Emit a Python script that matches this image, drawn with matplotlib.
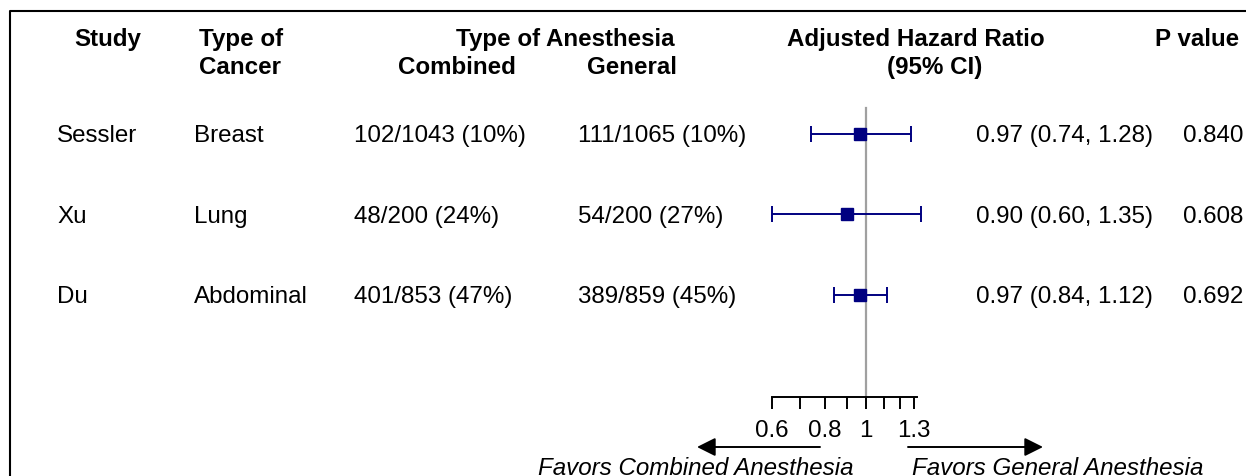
import matplotlib.pyplot as plt
import numpy as np
from matplotlib.lines import Line2D
from matplotlib.patches import FancyArrowPatch
from matplotlib.transforms import blended_transform_factory

# data
studies = ['Sessler', 'Xu', 'Du']
cancers = ['Breast', 'Lung', 'Abdominal']
combined = ['102/1043 (10%)', '48/200 (24%)', '401/853 (47%)']
general = ['111/1065 (10%)', '54/200 (27%)', '389/859 (45%)']
hr = [0.97, 0.90, 0.97]
lo = [0.74, 0.60, 0.84]
hi = [1.28, 1.35, 1.12]
pvals = ['0.840', '0.608', '0.692']
tick_vals = [0.6, 0.7, 0.8, 0.9, 1.0, 1.1, 1.2, 1.3]
tick_labels = ['0.6', '', '0.8', '', '1', '', '', '1.3']

W, H = 1246, 476
plt.rcParams['font.family'] = ['Liberation Sans', 'DejaVu Sans']
FS = 17.4

def fx(px):
    return px / W

def fy(py):
    return 1 - py / H

fig = plt.figure(figsize=(W / 100, H / 100), dpi=100)

# forest panel, log scale
ax = fig.add_axes([fx(760), fy(397), fx(930) - fx(760), fy(86) - fy(397)])
ax.set_xscale('log')
ax.set_xlim(0.5622, 1.4159)
ax.set_ylim(3.267, -0.596)
rows = np.arange(len(studies))

ax.axvline(1.0, ymin=0, ymax=(3.267 + 0.323) / (3.267 + 0.596), color='#a0a0a0', lw=1.6, zorder=1)
hr_a = np.array(hr)
ax.errorbar(hr_a, rows, xerr=[hr_a - np.array(lo), np.array(hi) - hr_a], fmt='s',
            color='#000080', ms=8.5, lw=1.4, capsize=6, capthick=1.4, zorder=3)

for s in ['top', 'right', 'left']:
    ax.spines[s].set_visible(False)
ax.spines['bottom'].set_bounds(0.6, 1.32)
ax.spines['bottom'].set_linewidth(1.4)
ax.set_yticks([])
ax.xaxis.set_major_locator(plt.FixedLocator(tick_vals))
ax.xaxis.set_major_formatter(plt.FixedFormatter(tick_labels))
ax.xaxis.set_minor_locator(plt.NullLocator())
ax.tick_params(axis='x', direction='out', length=8.6, width=1.4, pad=8, labelsize=FS)
ax.patch.set_visible(False)

# table columns, rows follow the axes' y scale
tr = blended_transform_factory(fig.transFigure, ax.transData)
cell = dict(transform=tr, fontsize=FS, va='center_baseline', ha='left')
for i in rows:
    ax.text(fx(57), i, studies[i], **cell)
    ax.text(fx(194), i, cancers[i], **cell)
    ax.text(fx(354), i, combined[i], **cell)
    ax.text(fx(578), i, general[i], **cell)
    ax.text(fx(976), i, f'{hr[i]:.2f} ({lo[i]:.2f}, {hi[i]:.2f})', **cell)
    ax.text(fx(1183), i, pvals[i], **cell)

# headers
hd = dict(fontsize=FS, fontweight='bold', va='center_baseline')
fig.text(fx(108), fy(37), 'Study', ha='center', **hd)
fig.text(fx(199), fy(37), 'Type of', ha='left', **hd)
fig.text(fx(199), fy(65), 'Cancer', ha='left', **hd)
fig.text(fx(565), fy(37), 'Type of Anesthesia', ha='center', **hd)
fig.text(fx(457), fy(65), 'Combined', ha='center', **hd)
fig.text(fx(632), fy(65), 'General', ha='center', **hd)
fig.text(fx(916), fy(37), 'Adjusted Hazard Ratio', ha='center', **hd)
fig.text(fx(935), fy(65), '(95% CI)', ha='center', **hd)
fig.text(fx(1239), fy(37), 'P value', ha='right', **hd)

# favors arrows
ap = dict(arrowstyle='-|>', color='black', lw=1.4, mutation_scale=28,
          transform=fig.transFigure, shrinkA=0, shrinkB=0)
fig.add_artist(FancyArrowPatch((fx(820), fy(447)), (fx(697), fy(447)), **ap))
fig.add_artist(FancyArrowPatch((fx(908), fy(447)), (fx(1043), fy(447)), **ap))
fig.text(fx(853), fy(466), 'Favors Combined Anesthesia', ha='right', va='center_baseline',
         fontsize=FS, style='italic')
fig.text(fx(912), fy(466), 'Favors General Anesthesia', ha='left', va='center_baseline',
         fontsize=FS, style='italic')

# frame
fig.add_artist(Line2D([fx(10), fx(10), 1.01], [-0.01, fy(11), fy(11)],
                      transform=fig.transFigure, color='black', lw=1.5))

fig.savefig('out.png', dpi=100)
